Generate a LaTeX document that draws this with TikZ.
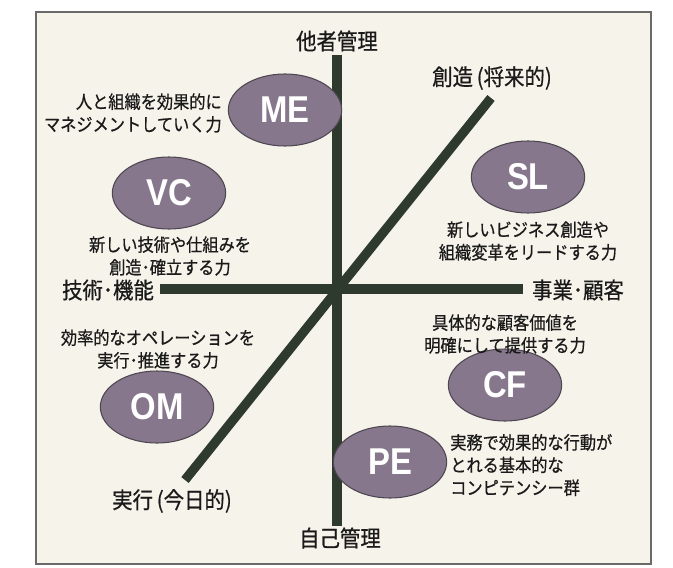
\documentclass[tikz,border=0pt]{standalone}
\usepackage{fontspec}
\setmainfont{Liberation Sans}
\newfontfamily\jpfont[FakeStretch=0.9,FakeBold=0.6]{Noto Sans CJK JP}
\newfontfamily\ovfont[FakeStretch=0.88]{Liberation Sans}
\usetikzlibrary{shapes.geometric}
\definecolor{bgc}{HTML}{F5F3EA}
\definecolor{framec}{HTML}{6A6A6A}
\definecolor{axisc}{HTML}{2E3A2E}
\definecolor{ovalc}{HTML}{86778C}
\definecolor{ovalb}{HTML}{4E4752}
\definecolor{txtc}{HTML}{1A1A1A}
\tikzset{
  axisline/.style={draw=axisc, line width=7pt},
  oval/.style={ellipse, fill=ovalc, draw=ovalb, line width=0.8pt,
    minimum width=85pt, minimum height=54pt, inner sep=0pt,
    text=white, font=\ovfont\fontsize{28}{28}\selectfont\bfseries},
  axislabel/.style={text=txtc, font=\jpfont\fontsize{17}{20}\selectfont, inner sep=0pt},
  desc/.style={text=txtc, font=\jpfont\fontsize{13.5}{17}\selectfont, inner sep=0pt, align=center},
}
\begin{document}
\begin{tikzpicture}[x=0.75pt,y=-0.75pt]
\useasboundingbox (0,0) rectangle (673,567);
\fill[white] (0,0) rectangle (673,567);
\draw[framec, line width=1pt, fill=bgc] (36,12) rectangle (651,564);

% axes
\coordinate (vtop) at (337,55);
\coordinate (vbot) at (337,526);
\coordinate (hl) at (160,289);
\coordinate (hr) at (523,289);
\coordinate (dl) at (185,480);
\coordinate (dr) at (491,98);
\draw[axisline] (vtop) -- (vbot);
\draw[axisline] (hl) -- (hr);
\draw[axisline] (dl) -- (dr);

% axis labels
\node[axislabel] (top) at (337,41) {他者管理};
\node[axislabel] (bot) at (340,538) {自己管理};
\node[axislabel] (left) at (108,290) {技術･機能};
\node[axislabel] (right) at (578,290) {事業･顧客};
\node[axislabel] (future) at (492,78) {創造\,(将来的)};
\node[axislabel] (today) at (172,501) {実行\,(今日的)};

% ovals
\node[oval] (me) at (285,110) {ME};
\node[oval] (vc) at (169,193) {VC};
\node[oval] (sl) at (528,177) {SL};
\node[oval] (om) at (157,407) {OM};
\node[oval] (cf) at (505,385) {CF};
\node[oval] (pe) at (390,462) {PE};

% descriptions
\node[desc, align=right, anchor=east] (med) at (222,113) {人と組織を効果的に\\マネジメントしていく力};
\node[desc] (vcd) at (170,256) {新しい技術や仕組みを\\創造･確立する力};
\node[desc] (sld) at (528,241) {新しいビジネス創造や\\組織変革をリードする力};
\node[desc] (cfd) at (505,334) {具体的な顧客価値を\\明確にして提供する力};
\node[desc] (omd) at (158,349) {効率的なオペレーションを\\実行･推進する力};
\node[desc, align=left, anchor=west] (ped) at (450,465) {実務で効果的な行動が\\とれる基本的な\\コンピテンシー群};
\end{tikzpicture}
\end{document}
